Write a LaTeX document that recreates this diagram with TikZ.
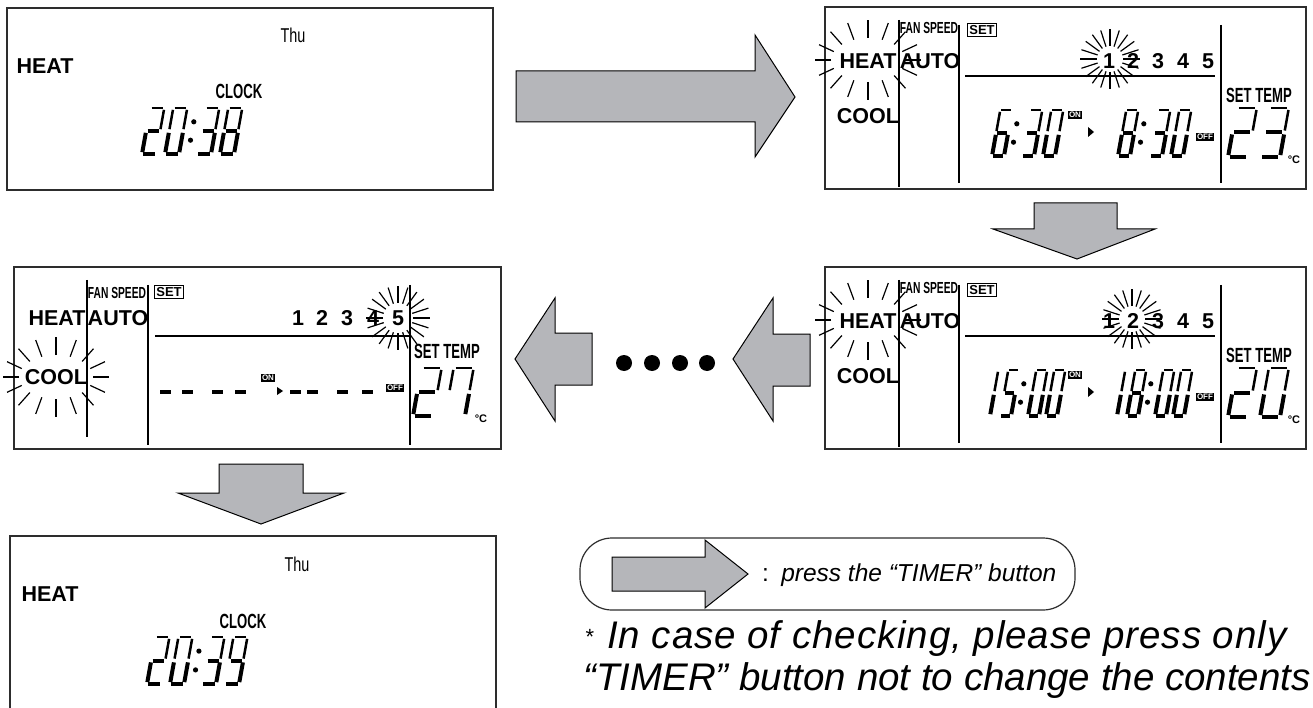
\documentclass[tikz,border=0pt]{standalone}
\usepackage{fontspec}
\setmainfont{Liberation Sans}
\newfontfamily\lcdnarrow[FakeStretch=0.64]{Liberation Sans}
\newfontfamily\lcdday[FakeStretch=0.72]{Liberation Sans}
\usetikzlibrary{positioning}

\definecolor{arrowgray}{RGB}{181,182,186}
\definecolor{framegray}{RGB}{45,45,45}

% segments of one lcd digit, unit box, v upwards
\def\sega{[lcdthin] (0.1,1)--(0.9,1)}
\def\segb{[lcdthin] (1,0.54)--(1,0.96)}
\def\segc{[lcdthick] (1,0.04)--(1,0.46)}
\def\segd{[lcdthick] (0.1,0)--(0.9,0)}
\def\sege{[lcdthick] (0,0.04)--(0,0.46)}
\def\segf{[lcdthin] (0,0.54)--(0,0.96)}
\def\segg{[lcdthick] (0.1,0.5)--(0.9,0.5)}

% x, baseline y, width, height, segments
\newcommand\lcddigit[5]{%
  \pgfmathsetmacro\lcdslant{-0.18*#4/#3}
  \begin{scope}[shift={(#1,#2)}, xscale=#3, yscale=-#4, xslant=\lcdslant]
    \foreach \s in {#5}{\draw \csname seg\s\endcsname;}
  \end{scope}}

% x, baseline y, height
\newcommand\lcdcolon[3]{%
  \fill ({#1+0.18*#3*0.3},{#2-0.3*#3}) circle (2.6);
  \fill ({#1+0.18*#3*0.7},{#2-0.7*#3}) circle (2.6);}

% centre x, y, inner rx, ry, outer rx, ry, step
\newcommand\flash[7]{%
  \foreach \a in {0,#7,...,359}
    \draw[ray] ({#1+#3*cos(\a)},{#2+#4*sin(\a)}) -- ({#1+#5*cos(\a)},{#2+#6*sin(\a)});}

\tikzset{
  panel/.style={draw=framegray, line width=1.5pt},
  divider/.style={line width=2pt},
  bigarrow/.style={fill=arrowgray, draw=black, line width=1pt, line join=miter},
  lcdthin/.style={line width=2.5pt},
  lcdthick/.style={line width=4pt},
  ray/.style={line width=1.2pt},
  label/.style={inner sep=0pt, font=\fontsize{21.5}{21.5}\selectfont\bfseries},
  narrowlabel/.style={inner sep=0pt, font=\lcdnarrow\fontsize{20.5}{20.5}\selectfont\bfseries},
  fanlabel/.style={inner sep=0pt, font=\lcdnarrow\fontsize{16}{16}\selectfont\bfseries},
  daylabel/.style={inner sep=0pt, font=\lcdday\fontsize{20}{20}\selectfont},
  setbox/.style={draw, line width=1pt, inner sep=1.5pt, font=\fontsize{13}{13}\selectfont\bfseries},
  tag/.style={fill=black, text=white, inner sep=1.3pt, font=\fontsize{8}{8}\selectfont\bfseries},
  unit/.style={inner sep=0pt, font=\fontsize{11}{11}\selectfont\bfseries},
  legendtext/.style={inner sep=0pt, font=\fontsize{24.5}{24.5}\selectfont\itshape},
  notetext/.style={inner sep=0pt, font=\fontsize{38.5}{38.5}\selectfont\itshape},
}

\begin{document}
\begin{tikzpicture}[x=1pt,y=-1pt]
\useasboundingbox (0,0) rectangle (1313,708);

% clock screen before
\draw[panel] (7,8) rectangle (493,190);
\node[daylabel] (thu1) at (293,35) {Thu};
\node[label] (heat1) at (45,66) {HEAT};
\node[narrowlabel] (clock1) at (239,91) {CLOCK};
\lcddigit{142}{154}{14}{46}{a,b,g,e,d}
\lcddigit{165}{154}{14}{46}{a,b,c,d,e,f}
\lcdcolon{188}{154}{46}
\lcddigit{197}{154}{14}{46}{a,b,g,c,d}
\lcddigit{220}{154}{14}{46}{a,b,c,d,e,f,g}

% press timer
\draw[bigarrow] (516,71) -- (755,71) -- (755,35) -- (795,97) -- (755,157) -- (755,122) -- (516,122) -- cycle;

% program 1
\draw[panel] (825,7) rectangle (1306,189);
\draw[divider] (899,20) -- (899,187);
\draw[divider] (959,25) -- (959,183);
\draw[divider] (1221,25) -- (1221,183);
\node[label] (heat2) at (868,61) {HEAT};
\flash{868}{60}{37}{22}{53}{40}{22.5}
\node[fanlabel] (fan2) at (929,28) {FAN SPEED};
\node[setbox] (set2) at (982,30) {SET};
\node[label] (auto2) at (930,61) {AUTO};
\node[label] (cool2) at (868,116) {COOL};
\foreach \n/\x in {1/1109,2/1133,3/1158,4/1183,5/1208}
  \node[label] (num2\n) at (\x,61) {\n};
\flash{1110}{59}{13}{13}{30}{30}{18}
\draw[line width=1.5pt] (965,76) -- (1215,76);
\lcddigit{992}{156}{12}{46}{a,f,g,e,c,d}
\lcdcolon{1011}{156}{46}
\lcddigit{1022}{156}{12}{46}{a,b,g,c,d}
\lcddigit{1043}{156}{12}{46}{a,b,c,d,e,f}
\node[tag] (on2) at (1075,115) {ON};
\fill (1088,127) -- (1094,132) -- (1088,137) -- cycle;
\lcddigit{1118}{156}{12}{46}{a,b,c,d,e,f,g}
\lcdcolon{1138}{156}{46}
\lcddigit{1150}{156}{12}{46}{a,b,g,c,d}
\lcddigit{1171}{156}{12}{46}{a,b,c,d,e,f}
\node[tag] (off2) at (1205,137) {OFF};
\node[narrowlabel] (temp2) at (1259,95) {SET TEMP};
\lcddigit{1228}{157}{20}{49}{a,b,g,e,d}
\lcddigit{1260}{157}{20}{49}{a,b,g,c,d}
\node[unit] (deg2) at (1294,160) {°C};

\draw[bigarrow] (1034,203) -- (1117,203) -- (1117,229) -- (1155,229) -- (1077,259) -- (993,229) -- (1034,229) -- cycle;

% program 2
\draw[panel] (825,267) rectangle (1306,449);
\draw[divider] (899,280) -- (899,447);
\draw[divider] (959,285) -- (959,443);
\draw[divider] (1221,285) -- (1221,443);
\node[label] (heat4) at (868,321) {HEAT};
\flash{868}{320}{37}{22}{53}{40}{22.5}
\node[fanlabel] (fan4) at (929,288) {FAN SPEED};
\node[setbox] (set4) at (982,290) {SET};
\node[label] (auto4) at (930,321) {AUTO};
\node[label] (cool4) at (868,376) {COOL};
\foreach \n/\x in {1/1109,2/1133,3/1158,4/1183,5/1208}
  \node[label] (num4\n) at (\x,321) {\n};
\flash{1132}{319}{13}{13}{30}{30}{18}
\draw[line width=1.5pt] (965,336) -- (1215,336);
\lcddigit{979}{416}{11}{46}{b,c}
\lcddigit{1000}{416}{11}{46}{a,f,g,c,d}
\lcdcolon{1018}{416}{46}
\lcddigit{1028}{416}{11}{46}{a,b,c,d,e,f}
\lcddigit{1046}{416}{11}{46}{a,b,c,d,e,f}
\node[tag] (on4) at (1075,375) {ON};
\fill (1088,387) -- (1094,392) -- (1088,397) -- cycle;
\lcddigit{1106}{416}{11}{46}{b,c}
\lcddigit{1127}{416}{11}{46}{a,b,c,d,e,f,g}
\lcdcolon{1145}{416}{46}
\lcddigit{1155}{416}{11}{46}{a,b,c,d,e,f}
\lcddigit{1173}{416}{11}{46}{a,b,c,d,e,f}
\node[tag] (off4) at (1205,397) {OFF};
\node[narrowlabel] (temp4) at (1259,355) {SET TEMP};
\lcddigit{1228}{417}{20}{49}{a,b,g,e,d}
\lcddigit{1260}{417}{20}{49}{a,b,c,d,e,f}
\node[unit] (deg4) at (1294,420) {°C};

% skipping the programs between
\draw[bigarrow] (733,359) -- (773,298) -- (773,334) -- (810,334) -- (810,386) -- (773,386) -- (773,421) -- cycle;
\foreach \x in {624,652,680,707}
  \fill (\x,363) circle (8);
\draw[bigarrow] (515,359) -- (555,298) -- (555,333) -- (592,333) -- (592,385) -- (555,385) -- (555,421) -- cycle;

% program 5, empty
\draw[panel] (14,267) rectangle (501,449);
\draw[divider] (87,280) -- (87,437);
\draw[divider] (148,285) -- (148,445);
\draw[divider] (410,285) -- (410,445);
\node[label] (heat3) at (57,318) {HEAT};
\node[fanlabel] (fan3) at (117,293) {FAN SPEED};
\node[setbox] (set3) at (169,292) {SET};
\node[label] (auto3) at (118,318) {AUTO};
\node[label] (cool3) at (56,377) {COOL};
\flash{56}{377}{37}{22}{53}{40}{22.5}
\foreach \n/\x in {1/298,2/322,3/347,4/373,5/398}
  \node[label] (num3\n) at (\x,318) {\n};
\flash{398}{318}{15}{15}{32}{32}{18}
\draw[line width=1.5pt] (155,336) -- (410,336);
\foreach \x in {160,182,212,235,290,307,337,362}
  \draw[line width=4pt] (\x,392) -- ++(11,0);
\node[tag] (on3) at (268,378) {ON};
\fill (277,387) -- (283,391) -- (277,395) -- cycle;
\node[tag] (off3) at (395,388) {OFF};
\node[narrowlabel] (temp3) at (447,351) {SET TEMP};
\lcddigit{413}{416}{20}{48}{a,b,g,e,d}
\lcddigit{445}{416}{20}{48}{a,b,c,f}
\node[unit] (deg3) at (481,419) {°C};

\draw[bigarrow] (219,464) -- (303,464) -- (303,493) -- (344,493) -- (261,524) -- (178,493) -- (219,493) -- cycle;

% clock screen after
\draw[panel] (10,536) rectangle (496,718);
\node[daylabel] (thu5) at (297,564) {Thu};
\node[label] (heat5) at (50,594) {HEAT};
\node[narrowlabel] (clock5) at (243,621) {CLOCK};
\lcddigit{147}{684}{14}{47}{a,b,g,e,d}
\lcddigit{170}{684}{14}{47}{a,b,c,d,e,f}
\lcdcolon{193}{684}{47}
\lcddigit{202}{684}{14}{47}{a,b,g,c,d}
\lcddigit{225}{684}{14}{47}{a,b,g,c,d,f}

% legend
\draw[panel, line width=1.2pt, rounded corners=32] (580,538) rectangle (1075,610);
\draw[bigarrow] (612,557) -- (705,557) -- (705,540) -- (748,574) -- (705,608) -- (705,591) -- (612,591) -- cycle;
\node[legendtext, anchor=west] (press) at (762,575) {{\upshape :}\enspace press the “TIMER” button};
\node[inner sep=0pt, font=\fontsize{22}{22}\selectfont] (star) at (590,637) {*};
\node[notetext, anchor=base west] (note1) at (607,648) {\addfontfeature{LetterSpace=2.4}In case of checking, please press only};
\node[notetext, anchor=base west] (note2) at (583,690) {“TIMER” button not to change the contents};
\end{tikzpicture}
\end{document}
